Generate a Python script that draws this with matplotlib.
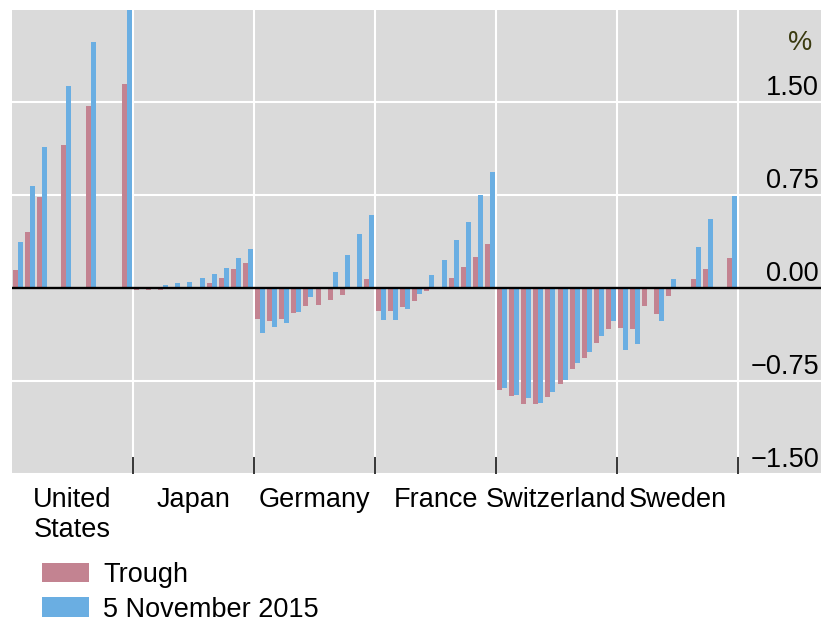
import numpy as np
import matplotlib.pyplot as plt
from matplotlib.ticker import NullFormatter

plt.rcParams['font.family'] = ['Liberation Sans', 'DejaVu Sans']

countries = ['United\nStates', 'Japan', 'Germany', 'France', 'Switzerland', 'Sweden']
# ten maturity slots per country (1 to 10 years); nan = no bar
nan = np.nan
trough = [
    [0.14, 0.45, 0.73, nan, 1.15, nan, 1.46, nan, nan, 1.64],
    [-0.02, -0.02, -0.02, 0.0, 0.0, 0.0, 0.04, 0.08, 0.15, 0.20],
    [-0.25, -0.27, -0.25, -0.20, -0.15, -0.14, -0.095, -0.055, nan, 0.073],
    [-0.19, -0.19, -0.153, -0.105, -0.024, nan, 0.08, 0.169, 0.249, 0.354],
    [-0.826, -0.874, -0.938, -0.938, -0.882, -0.777, -0.656, -0.568, -0.447, -0.335],
    [-0.327, -0.335, -0.15, -0.214, -0.07, nan, 0.067, 0.155, nan, 0.236],
]
nov2015 = [
    [0.37, 0.82, 1.136, nan, 1.626, nan, 1.98, nan, nan, 2.26],
    [0.0, 0.0, 0.019, 0.035, 0.05, 0.075, 0.107, 0.163, 0.236, 0.316],
    [-0.367, -0.318, -0.28, -0.199, -0.071, nan, 0.13, 0.266, 0.435, 0.589],
    [-0.257, -0.257, -0.169, -0.048, 0.105, 0.225, 0.386, 0.531, 0.748, 0.935],
    [-0.81, -0.866, -0.89, -0.93, -0.841, -0.745, -0.608, -0.52, -0.391, -0.271],
    [-0.504, -0.456, nan, -0.271, 0.067, nan, 0.332, 0.557, nan, 0.742],
]
yticks = [-1.5, -0.75, 0.0, 0.75, 1.5]
ytick_labels = ['\u22121.50', '\u22120.75', '0.00', '0.75', '1.50']

pink = '#C38391'
blue = '#6AAEE2'
bg = '#DADADA'

fig = plt.figure(figsize=(8.21, 6.22), dpi=100)
ax = fig.add_axes([12 / 821, 1 - 474 / 622, 1 - 12 / 821, (474 - 10) / 622])
ax.set_facecolor(bg)

n_slots = 10
x = np.arange(len(countries) * n_slots) + 0.5
tr = np.array(trough).ravel()
nv = np.array(nov2015).ravel()
ax.bar(x - 0.205, tr, 0.41, color=pink, label='Trough', zorder=2)
ax.bar(x + 0.205, nv, 0.41, color=blue, label='5 November 2015', zorder=2)

ax.axhline(0, color='black', lw=1.7, zorder=3)

ax.set_xlim(0, (821 - 12) / 12.1)
ax.set_ylim(-1.5, 2.237)

# white grid
for yv in yticks:
    ax.axhline(yv, color='white', lw=1.5, zorder=1)
bounds = np.arange(1, len(countries) + 1) * n_slots
for xv in bounds:
    ax.axvline(xv, color='white', lw=1.5, zorder=1)

for s in ax.spines.values():
    s.set_visible(False)

# boundary ticks + country labels
ax.set_xticks(bounds)
ax.xaxis.set_major_formatter(NullFormatter())
ax.tick_params(axis='x', which='major', direction='in', length=12, width=1.1, color='black')
centers = (np.arange(len(countries)) + 0.5) * n_slots
ax.set_xticks(centers, minor=True)
ax.set_xticklabels(countries, minor=True, fontsize=19.5, linespacing=1.17)
ax.tick_params(axis='x', which='minor', length=0, pad=9.5)

ax.set_yticks([])
for yv, lab in zip(yticks, ytick_labels):
    ax.annotate(lab, xy=(1.0, yv), xycoords=('axes fraction', 'data'),
                xytext=(-2, 7), textcoords='offset pixels',
                ha='right', va='baseline', fontsize=19.5, color='black')
ax.text(0.989, 1 - 20 / 464, '%', transform=ax.transAxes, ha='right', va='top',
        fontsize=19.5, color='#3a3a10')

fig.legend(loc='upper left', bbox_to_anchor=(42 / 821, 1 - 562 / 622), frameon=False,
           fontsize=19.5, handlelength=1.72, handleheight=0.74, handletextpad=0.55,
           labelspacing=0.32, borderaxespad=0, borderpad=0)

fig.savefig('out.png', dpi=100)
